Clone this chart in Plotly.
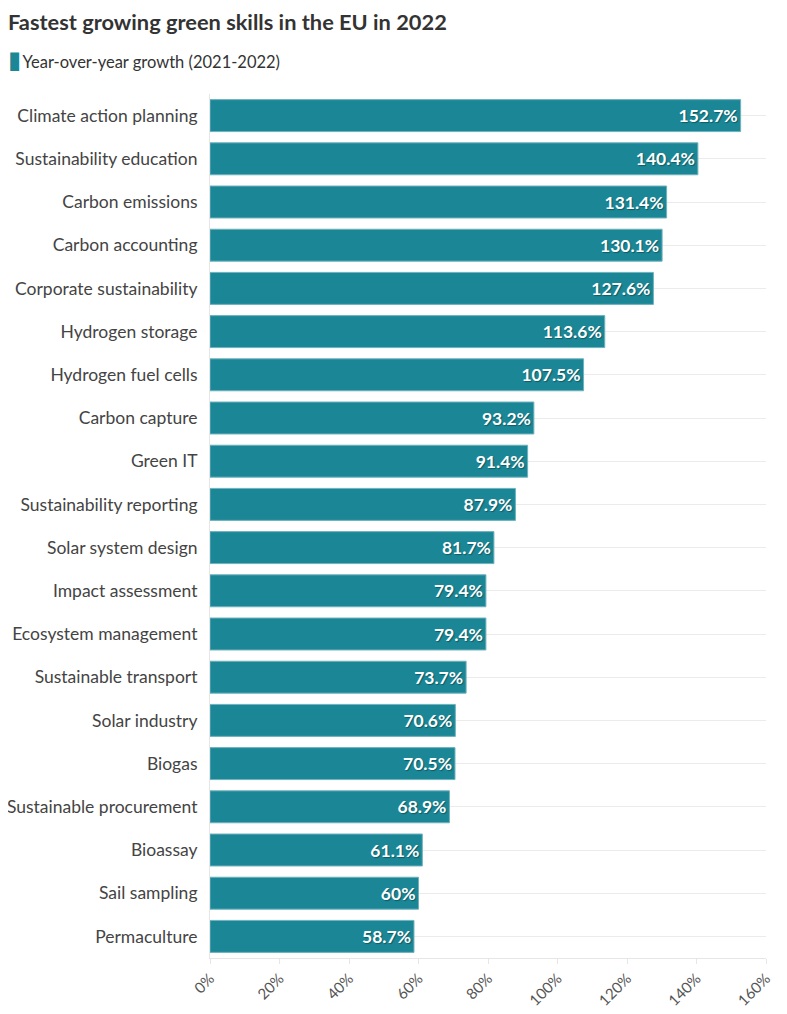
import plotly.graph_objects as go

skills = [
    "Climate action planning", "Sustainability education", "Carbon emissions",
    "Carbon accounting", "Corporate sustainability", "Hydrogen storage",
    "Hydrogen fuel cells", "Carbon capture", "Green IT", "Sustainability reporting",
    "Solar system design", "Impact assessment", "Ecosystem management",
    "Sustainable transport", "Solar industry", "Biogas", "Sustainable procurement",
    "Bioassay", "Sail sampling", "Permaculture",
]
growth = [152.7, 140.4, 131.4, 130.1, 127.6, 113.6, 107.5, 93.2, 91.4, 87.9,
          81.7, 79.4, 79.4, 73.7, 70.6, 70.5, 68.9, 61.1, 60, 58.7]
tick_vals = [0, 20, 40, 60, 80, 100, 120, 140, 160]
tick_text = [f"{v}%" for v in tick_vals]
series_name = "Year-over-year growth (2021-2022)"

font = "Lato, 'Noto Sans', sans-serif"
teal = "#1b8796"

fig = go.Figure(go.Bar(
    x=growth,
    y=skills,
    orientation="h",
    name=series_name,
    marker=dict(color=teal, line=dict(color="#6fb2bc", width=1)),
    width=0.74,
    text=[f"{v:g}%" for v in growth],
    textposition="inside",
    insidetextanchor="end",
    textfont=dict(color="white", size=17.5, family=font, weight="bold",
                  shadow="1px 1px 1px #0d5b66"),
    showlegend=False,
))

# legend drawn as a text line so the swatch sits tight against the label
fig.add_annotation(
    text=(f"<span style='color:{teal};font-size:24px'>▮</span>"
          f"<span style='font-size:6px'> </span>{series_name}"),
    xref="paper", yref="paper", x=-204 / 556, y=1 + 36 / 872,
    xanchor="left", yanchor="middle", showarrow=False,
    font=dict(size=16.5, color="#333", family=font),
)

fig.update_layout(
    width=787, height=1014,
    margin=dict(l=202, r=29, t=86, b=64),
    paper_bgcolor="white", plot_bgcolor="white",
    font=dict(family=font, color="#444"),
    title=dict(text="<b>Fastest growing green skills in the EU in 2022</b>",
               x=0.0, xanchor="left", y=1 - 14 / 1014, yanchor="middle",
               font=dict(size=21.8, color="#333", family=font)),
    bargap=0.26,
)

fig.update_yaxes(autorange="reversed", showgrid=True, gridcolor="#ebebeb",
                 tickfont=dict(size=17.5, color="#444"), ticks="outside",
                 ticklen=8, tickcolor="white", showline=True,
                 linecolor="#e6e6e6", linewidth=1, automargin=False)
fig.update_xaxes(range=[0, 160], tickvals=tick_vals, ticktext=tick_text,
                 tickangle=-45, tickfont=dict(size=15, color="#555"),
                 showgrid=False, zeroline=False, showline=True,
                 linecolor="#e6e6e6", ticks="outside", ticklen=5,
                 tickcolor="#e6e6e6", automargin=False)

fig.write_html("out.html")
